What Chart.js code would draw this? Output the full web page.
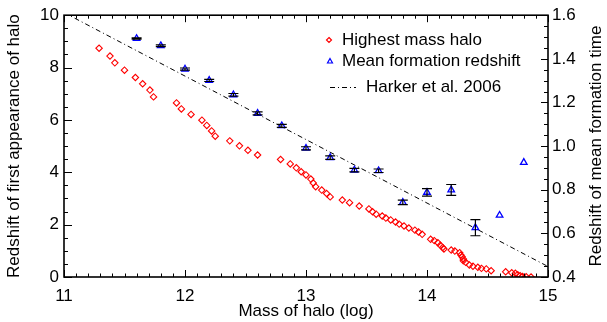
<!DOCTYPE html>
<html lang="en">
<head>
<meta charset="utf-8">
<title>Halo formation redshift</title>
<script src="https://cdn.jsdelivr.net/npm/chart.js"></script>
<style>
  * { margin: 0; padding: 0; box-sizing: border-box; }
  body { background: #fff; }
  #wrap { width: 607px; height: 322px; position: relative; }
</style>
</head>
<body>
<div id="wrap"><canvas id="chart"></canvas></div>
<script>
// Highest mass halo (left axis)
const redMass = [11.29, 11.38, 11.42, 11.50, 11.59, 11.65, 11.71, 11.74, 11.93, 11.97,
  12.05, 12.14, 12.18, 12.22, 12.25, 12.37, 12.45, 12.52, 12.60, 12.79,
  12.87, 12.92, 12.96, 13.00, 13.04, 13.06, 13.08, 13.13, 13.17, 13.20,
  13.30, 13.36, 13.44, 13.52, 13.55, 13.58, 13.63, 13.66, 13.70, 13.74,
  13.77, 13.81, 13.85, 13.90, 13.93, 13.96, 14.03, 14.06, 14.09, 14.11,
  14.13, 14.14, 14.20, 14.23, 14.27, 14.28, 14.29, 14.30, 14.30, 14.32,
  14.35, 14.38, 14.42, 14.45, 14.49, 14.53, 14.65, 14.70, 14.73, 14.75,
  14.77, 14.79, 14.82, 14.86];
const redZ = [8.74, 8.44, 8.18, 7.90, 7.62, 7.38, 7.14, 6.88, 6.65, 6.42,
  6.21, 5.99, 5.79, 5.58, 5.38, 5.20, 5.01, 4.84, 4.66, 4.49,
  4.32, 4.17, 4.02, 3.90, 3.74, 3.59, 3.45, 3.32, 3.19, 3.06,
  2.94, 2.84, 2.71, 2.60, 2.49, 2.40, 2.33, 2.25, 2.18, 2.10,
  2.02, 1.95, 1.87, 1.79, 1.72, 1.63, 1.44, 1.39, 1.31, 1.21,
  1.13, 1.07, 1.03, 0.99, 0.93, 0.84, 0.77, 0.69, 0.62, 0.56,
  0.46, 0.41, 0.37, 0.33, 0.31, 0.24, 0.20, 0.16, 0.14, 0.09,
  0.05, 0.02, 0.01, 0.00];

// Mean formation redshift (right axis) with error bars
const blueMass = [11.6, 11.8, 12.0, 12.2, 12.4, 12.6, 12.8, 13.0, 13.2, 13.4,
  13.6, 13.8, 14.0, 14.2, 14.4, 14.6, 14.8];
const blueZf = [1.493, 1.460, 1.353, 1.301, 1.235, 1.150, 1.093, 0.990, 0.947, 0.890,
  0.887, 0.742, 0.788, 0.799, 0.626, 0.683, 0.925];
const blueErr = [0.003, 0.004, 0.005, 0.005, 0.006, 0.007, 0.007, 0.007, 0.008, 0.008,
  0.008, 0.010, 0.017, 0.025, 0.037, null, null];

// Harker et al. 2006 relation
const harkerMass = [11, 15];
const harkerZ = [10.1, 0.4];

const xTicks = [11, 12, 13, 14, 15];
const leftTicks = [0, 2, 4, 6, 8, 10];
const rightTicks = [0.4, 0.6, 0.8, 1.0, 1.2, 1.4, 1.6];

const FONT = '"Liberation Sans", Arial, sans-serif';
const pts = (xs, ys) => xs.map((x, i) => ({ x: x, y: ys[i] }));

const decor = {
  id: 'decor',
  afterDatasetsDraw(chart) {
    const ctx = chart.ctx, x = chart.scales.x, y1 = chart.scales.y1;
    ctx.save();
    ctx.strokeStyle = '#000';
    ctx.lineWidth = 1.2;
    blueMass.forEach((m, i) => {
      const e = blueErr[i];
      if (e == null) return;
      const px = x.getPixelForValue(m);
      const top = y1.getPixelForValue(blueZf[i] + e);
      const bot = y1.getPixelForValue(blueZf[i] - e);
      ctx.beginPath();
      ctx.moveTo(px, top); ctx.lineTo(px, bot);
      ctx.moveTo(px - 5, top); ctx.lineTo(px + 5, top);
      ctx.moveTo(px - 5, bot); ctx.lineTo(px + 5, bot);
      ctx.stroke();
    });
    ctx.restore();
  },
  afterDraw(chart) {
    const ctx = chart.ctx, a = chart.chartArea;
    const x = chart.scales.x, y = chart.scales.y, y1 = chart.scales.y1;
    ctx.save();
    ctx.strokeStyle = '#000';
    ctx.lineWidth = 1;
    ctx.beginPath();
    // x ticks, bottom and top
    for (let i = 0; i <= 40; i++) {
      const px = Math.round(x.getPixelForValue(11 + i * 0.1)) + 0.5;
      const len = i % 10 === 0 ? 7 : 3.5;
      ctx.moveTo(px, a.bottom); ctx.lineTo(px, a.bottom - len);
      ctx.moveTo(px, a.top); ctx.lineTo(px, a.top + len);
    }
    // left ticks
    for (let i = 0; i <= 20; i++) {
      const py = Math.round(y.getPixelForValue(i * 0.5)) + 0.5;
      const len = i % 4 === 0 ? 8 : 4;
      ctx.moveTo(a.left, py); ctx.lineTo(a.left + len, py);
    }
    // right ticks
    for (let i = 0; i <= 24; i++) {
      const py = Math.round(y1.getPixelForValue(0.4 + i * 0.05)) + 0.5;
      const len = i % 4 === 0 ? 7 : 4;
      ctx.moveTo(a.right, py); ctx.lineTo(a.right - len, py);
    }
    ctx.stroke();
    ctx.lineWidth = 1.6;
    ctx.strokeRect(a.left, a.top, a.right - a.left, a.bottom - a.top);

    // axis titles
    ctx.fillStyle = '#000';
    ctx.font = '17px ' + FONT;
    ctx.textAlign = 'center';
    ctx.textBaseline = 'middle';
    ctx.fillText('Mass of halo (log)', (a.left + a.right) / 2, 311);
    const midY = (a.top + a.bottom) / 2;
    ctx.save();
    ctx.translate(14, midY); ctx.rotate(-Math.PI / 2);
    ctx.fillText('Redshift of first appearance of halo', 0, 0);
    ctx.restore();
    ctx.save();
    ctx.translate(596, midY); ctx.rotate(-Math.PI / 2);
    ctx.fillText('Redshift of mean formation time', 0, 0);
    ctx.restore();

    // legend
    ctx.textAlign = 'left';
    ctx.lineWidth = 1.2;
    ctx.strokeStyle = '#ff0000';
    ctx.beginPath();
    ctx.moveTo(329, 37.5); ctx.lineTo(331.5, 40); ctx.lineTo(329, 42.5); ctx.lineTo(326.5, 40); ctx.closePath();
    ctx.stroke();
    ctx.strokeStyle = '#0000ff';
    ctx.beginPath();
    ctx.moveTo(330, 58.5); ctx.lineTo(332.5, 63); ctx.lineTo(327.5, 63); ctx.closePath();
    ctx.stroke();
    ctx.strokeStyle = '#000';
    ctx.lineWidth = 1;
    ctx.setLineDash([5, 3, 1, 3]);
    ctx.beginPath();
    ctx.moveTo(330, 87.5); ctx.lineTo(356, 87.5);
    ctx.stroke();
    ctx.setLineDash([]);
    ctx.fillText('Highest mass halo', 342, 40);
    ctx.fillText('Mean formation redshift', 342, 61);
    ctx.fillText('Harker et al. 2006', 366, 87);
    ctx.restore();
  }
};

new Chart(document.getElementById('chart'), {
  type: 'scatter',
  data: {
    datasets: [
      {
        label: 'Highest mass halo',
        data: pts(redMass, redZ),
        yAxisID: 'y',
        pointStyle: 'rectRot',
        pointRadius: 3.2,
        borderColor: '#ff0000',
        backgroundColor: 'rgba(0,0,0,0)',
        borderWidth: 1.1
      },
      {
        label: 'Mean formation redshift',
        data: pts(blueMass, blueZf),
        yAxisID: 'y1',
        pointStyle: 'triangle',
        pointRadius: 3.8,
        borderColor: '#0000ff',
        backgroundColor: 'rgba(0,0,0,0)',
        borderWidth: 1.3
      },
      {
        label: 'Harker et al. 2006',
        data: pts(harkerMass, harkerZ),
        yAxisID: 'y',
        showLine: true,
        pointRadius: 0,
        borderColor: '#000',
        borderWidth: 1,
        borderDash: [5, 3, 1, 3]
      }
    ]
  },
  options: {
    responsive: true,
    maintainAspectRatio: false,
    animation: false,
    layout: { padding: { top: 15, left: 0, right: 0, bottom: 0 } },
    plugins: { legend: { display: false }, tooltip: { enabled: false } },
    scales: {
      x: {
        type: 'linear', min: 11, max: 15,
        afterBuildTicks: s => { s.ticks = xTicks.map(v => ({ value: v })); },
        afterFit: s => { s.height = 45; },
        grid: { display: false, drawTicks: false },
        border: { display: false },
        ticks: { color: '#000', padding: 9, font: { family: FONT, size: 17 } }
      },
      y: {
        position: 'left', min: 0, max: 10,
        afterBuildTicks: s => { s.ticks = leftTicks.map(v => ({ value: v })); },
        afterFit: s => { s.width = 64; },
        grid: { display: false, drawTicks: false },
        border: { display: false },
        ticks: { color: '#000', padding: 5, font: { family: FONT, size: 17 } }
      },
      y1: {
        position: 'right', min: 0.4, max: 1.6,
        afterBuildTicks: s => { s.ticks = rightTicks.map(v => ({ value: v })); },
        afterFit: s => { s.width = 59; },
        grid: { display: false, drawTicks: false },
        border: { display: false },
        ticks: { color: '#000', padding: 4, font: { family: FONT, size: 17 },
          callback: v => v.toFixed(1) }
      }
    }
  },
  plugins: [decor]
});
</script>
</body>
</html>
